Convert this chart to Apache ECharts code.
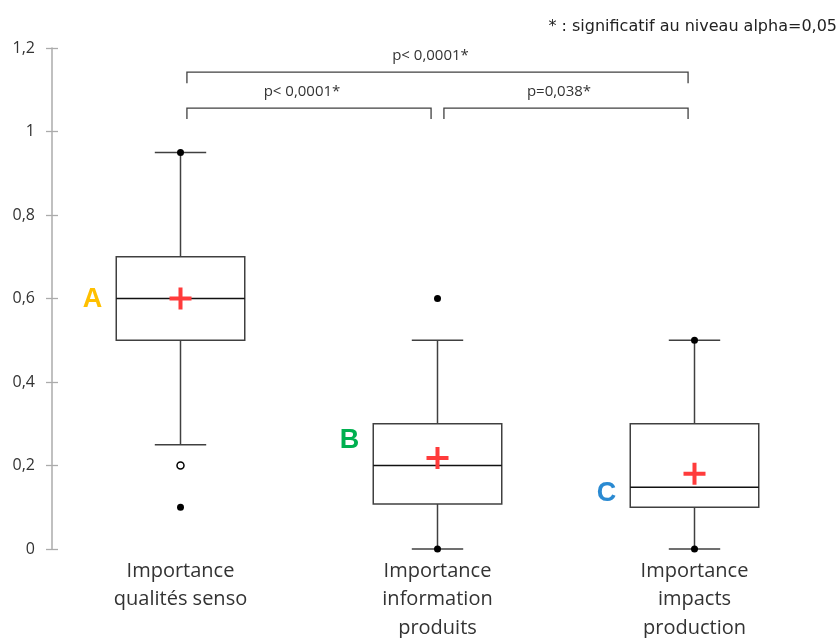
<!DOCTYPE html>
<html>
<head>
<meta charset="utf-8">
<script src="https://cdn.jsdelivr.net/npm/echarts@6/dist/echarts.min.js"></script>
<style>
  html, body { margin: 0; padding: 0; background: #fff; }
  #chart { width: 838px; height: 638px; }
</style>
</head>
<body>
<div id="chart"></div>
<script>
// categories
var categories = ['Importance\nqualités senso', 'Importance\ninformation\nproduits', 'Importance\nimpacts\nproduction'];
// box statistics
var whiskerLow = [0.25, 0, 0];
var q1 = [0.5, 0.108, 0.1];
var median = [0.6, 0.2, 0.148];
var q3 = [0.7, 0.3, 0.3];
var whiskerHigh = [0.95, 0.5, 0.5];
var means = [0.6, 0.218, 0.18];
// min / max points (filled) and outliers (open)
var minimum = [0.1, 0, 0];
var maximum = [0.95, 0.6, 0.5];
var outlierCat = [0];
var outlierVal = [0.2];
// group letters
var groupLetters = ['A', 'B', 'C'];
var letterY = [0.6, 0.263, 0.135];
// pairwise comparisons
var pairFrom = [0, 0, 1];
var pairTo = [2, 1, 2];
var pairLevel = [1.142, 1.056, 1.056];
var pairText = ['p< 0,0001*', 'p< 0,0001*', 'p=0,038*'];
// y axis
var yMin = 0, yMax = 1.2, yStep = 0.2;

var letterColors = ['#FFC000', '#00B050', '#2A8AD2'];
var chart = echarts.init(document.getElementById('chart'));

var boxData = categories.map(function (c, i) {
  return [i, whiskerLow[i], q1[i], median[i], q3[i], whiskerHigh[i]];
});
var pointData = [];
categories.forEach(function (c, i) {
  pointData.push([i, minimum[i]]);
  pointData.push([i, maximum[i]]);
});
var outlierData = outlierCat.map(function (c, k) { return [c, outlierVal[k]]; });
var meanData = means.map(function (v, i) { return [i, v]; });
var letterData = groupLetters.map(function (l, i) {
  return { value: [i, letterY[i]], name: l, label: { color: letterColors[i] } };
});
var pairData = pairFrom.map(function (f, k) { return [f, pairTo[k], pairLevel[k], k]; });

function renderBox(params, api) {
  var i = api.value(0);
  var bw = api.size([1, 0])[0];
  var half = bw * 0.25, cap = bw * 0.1;
  var x = api.coord([i, 0])[0];
  var yLow = api.coord([i, api.value(1)])[1];
  var yQ1 = api.coord([i, api.value(2)])[1];
  var yMed = api.coord([i, api.value(3)])[1];
  var yQ3 = api.coord([i, api.value(4)])[1];
  var yHigh = api.coord([i, api.value(5)])[1];
  var ls = { stroke: '#404040', lineWidth: 1.5, fill: 'none' };
  return {
    type: 'group',
    children: [
      { type: 'line', shape: { x1: x, y1: yQ3, x2: x, y2: yHigh }, style: ls },
      { type: 'line', shape: { x1: x - cap, y1: yHigh, x2: x + cap, y2: yHigh }, style: ls },
      { type: 'line', shape: { x1: x, y1: yQ1, x2: x, y2: yLow }, style: ls },
      { type: 'line', shape: { x1: x - cap, y1: yLow, x2: x + cap, y2: yLow }, style: ls },
      { type: 'rect', shape: { x: x - half, y: yQ3, width: half * 2, height: yQ1 - yQ3 },
        style: { stroke: '#404040', lineWidth: 1.5, fill: '#fff' } },
      { type: 'line', shape: { x1: x - half, y1: yMed, x2: x + half, y2: yMed },
        style: { stroke: '#111', lineWidth: 1.5 } }
    ]
  };
}

function renderPair(params, api) {
  var bw = api.size([1, 0])[0];
  var inset = bw * 0.025;
  var p1 = api.coord([api.value(0), api.value(2)]);
  var p2 = api.coord([api.value(1), api.value(2)]);
  var x1 = p1[0] + inset, x2 = p2[0] - inset, y = p1[1];
  var drop = 11;
  return {
    type: 'group',
    children: [
      { type: 'polyline', shape: { points: [[x1, y + drop], [x1, y], [x2, y], [x2, y + drop]] },
        style: { stroke: '#404040', lineWidth: 1.3, fill: 'none' } },
      { type: 'text', style: { text: pairText[api.value(3)], x: (x1 + x2) / 2 - 7, y: y - 16,
        align: 'center', verticalAlign: 'middle', fontSize: 15, fontFamily: 'Open Sans', fill: '#333' } }
    ]
  };
}

var yAxisBase = { type: 'value', min: yMin, max: yMax, interval: yStep, splitLine: { show: false } };

chart.setOption({
  animation: false,
  title: {
    text: '* : significatif au niveau alpha=0,05',
    right: 1, top: 19, padding: 0,
    textStyle: { fontSize: 16, fontWeight: 'normal', fontFamily: 'DejaVu Sans', color: '#222' }
  },
  grid: { left: 52, right: 15, top: 48, bottom: 89, containLabel: false, outerBoundsMode: 'none' },
  xAxis: {
    type: 'category',
    data: categories,
    axisLine: { show: false },
    axisTick: { show: false },
    axisLabel: { interval: 0, fontSize: 20, fontFamily: 'Open Sans', color: '#333', lineHeight: 28.5, margin: 8 }
  },
  yAxis: [
    Object.assign({}, yAxisBase, {
      axisLine: { show: true, lineStyle: { color: '#ababab', width: 1.5 } },
      axisTick: { show: true, length: 6, lineStyle: { color: '#ababab', width: 1.3 } },
      axisLabel: { margin: 17, fontSize: 16, fontFamily: 'Open Sans', color: '#333',
        formatter: function (v) { return String(+v.toFixed(2)).replace('.', ','); } }
    }),
    Object.assign({}, yAxisBase, {
      position: 'left',
      axisLine: { show: false },
      axisTick: { show: true, inside: true, length: 6, lineStyle: { color: '#ababab', width: 1.3 } },
      axisLabel: { show: false }
    })
  ],
  series: [
    { type: 'custom', renderItem: renderBox, data: boxData, encode: { x: 0, y: [1, 2, 3, 4, 5] }, z: 2 },
    { type: 'custom', renderItem: renderPair, data: pairData, encode: { x: [0, 1], y: 2 }, z: 2, clip: false },
    { type: 'scatter', data: pointData, symbol: 'circle', symbolSize: 7,
      itemStyle: { color: '#000', opacity: 1 }, z: 4 },
    { type: 'scatter', data: outlierData, symbol: 'circle', symbolSize: 7,
      itemStyle: { color: '#fff', borderColor: '#000', borderWidth: 1.5, opacity: 1 }, z: 4 },
    { type: 'scatter', data: meanData, symbol: 'path://M9,0H13V9H22V13H13V22H9V13H0V9H9Z', symbolSize: 22,
      itemStyle: { color: '#FF3B3B', opacity: 1 }, z: 5 },
    { type: 'scatter', data: letterData, symbolSize: 1, itemStyle: { color: 'rgba(0,0,0,0)', opacity: 1 }, z: 5,
      label: { show: true, formatter: '{b}', position: 'inside', offset: [-88, 1], opacity: 1,
        fontSize: 27, fontWeight: 'bold', fontFamily: 'Liberation Sans' } }
  ]
});
</script>
</body>
</html>
